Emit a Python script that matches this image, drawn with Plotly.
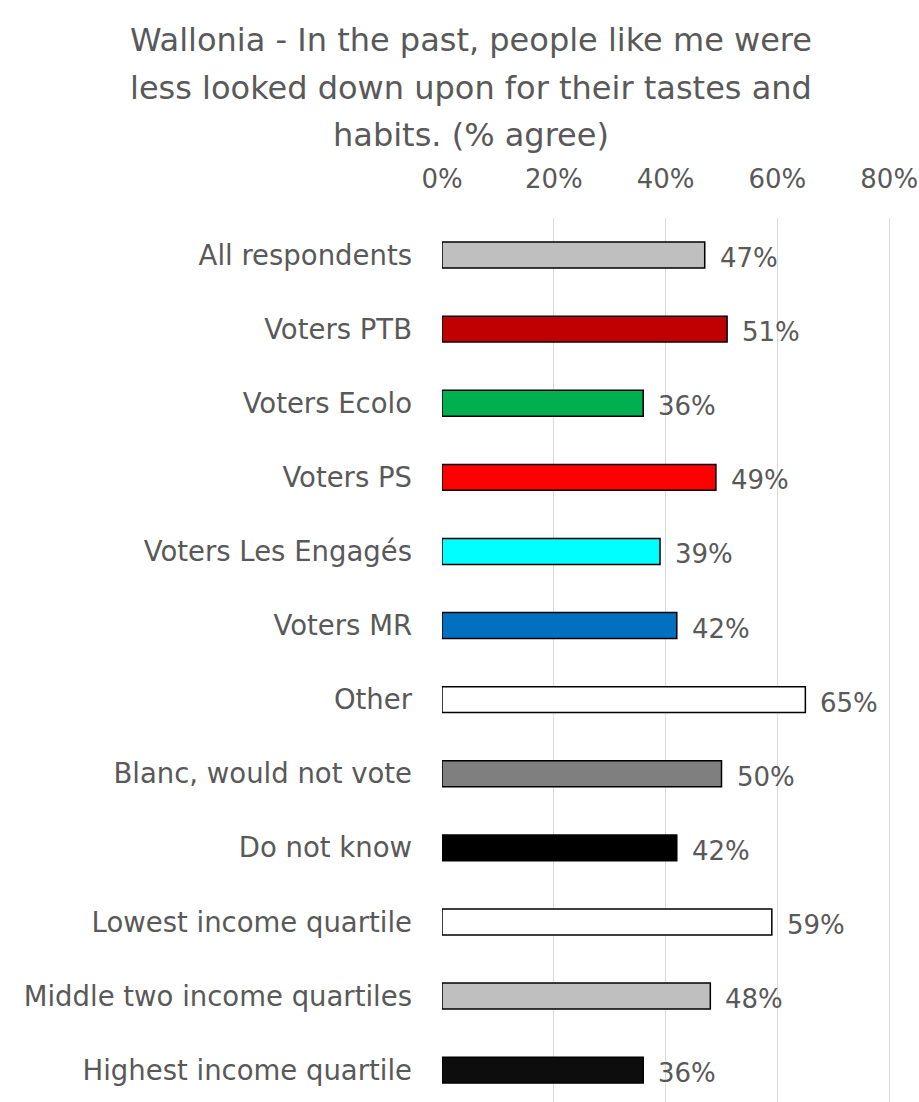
import plotly.graph_objects as go

categories = ["All respondents", "Voters PTB", "Voters Ecolo", "Voters PS",
              "Voters Les Engagés", "Voters MR", "Other", "Blanc, would not vote",
              "Do not know", "Lowest income quartile", "Middle two income quartiles",
              "Highest income quartile"]
values = [47, 51, 36, 49, 39, 42, 65, 50, 42, 59, 48, 36]
colors = ["#BFBFBF", "#C00000", "#00B050", "#FF0000", "#00FFFF", "#0070C0",
          "#FFFFFF", "#7F7F7F", "#000000", "#FFFFFF", "#BFBFBF", "#0D0D0D"]
tick_vals = [0, 20, 40, 60, 80]
tick_text = ["0%", "20%", "40%", "60%", "80%"]
title_lines = ["Wallonia - In the past, people like me were",
               "less looked down upon for their tastes and",
               "habits. (% agree)"]

FONT = "DejaVu Sans"
GREY = "#595959"
W, H = 919, 1102
# plot area in screen pixels: x 442..(889 + a little), y 218..1102
X0, X80 = 442, 889
XMAX = 80.5
x_right = X0 + (X80 - X0) * XMAX / 80
L = X0
R = W - x_right
T = 218
B = 0
PW, PH = W - L - R, H - T - B
band = 74.1
y_bottom = -0.5 + (H - T) / band


def px_x(p):
    return (p - L) / PW


def px_y(p):
    return (H - B - p) / PH


fig = go.Figure()
fig.add_trace(go.Bar(
    x=values, y=categories, orientation="h",
    marker=dict(color=colors, line=dict(color="#000000", width=1.5)),
    width=0.35, hoverinfo="skip",
))

for c, v in zip(categories, values):
    fig.add_annotation(x=v, y=c, text=f"{v}%", showarrow=False, xanchor="left",
                       xshift=13, yshift=-3, font=dict(family=FONT, size=26, color=GREY))

for i, line in enumerate(title_lines):
    fig.add_annotation(x=px_x(471), y=px_y(40 + i * 47.5), xref="paper", yref="paper",
                       showarrow=False, text=line, xanchor="center", yanchor="middle",
                       font=dict(family=FONT, size=32, color=GREY))

fig.update_layout(
    width=W, height=H,
    margin=dict(l=L, r=R, t=T, b=B, pad=0),
    plot_bgcolor="#FFFFFF", paper_bgcolor="#FFFFFF",
    showlegend=False,
    font=dict(family=FONT, size=26, color=GREY),
    xaxis=dict(side="top", range=[0, XMAX], tickvals=tick_vals, ticktext=tick_text,
               showgrid=True, gridcolor="#D9D9D9", gridwidth=1, zeroline=False,
               showline=False, ticks="", ticklabelstandoff=24, automargin=False,
               tickfont=dict(family=FONT, size=26, color=GREY)),
    yaxis=dict(range=[y_bottom, -0.5], showgrid=False, zeroline=False, showline=False,
               ticks="", ticklabelstandoff=29, automargin=False,
               tickfont=dict(family=FONT, size=27.5, color=GREY)),
)

fig.write_html("out.html", config={"displayModeBar": False},
               post_script="document.body.style.margin='0';document.body.style.overflow='hidden';")
